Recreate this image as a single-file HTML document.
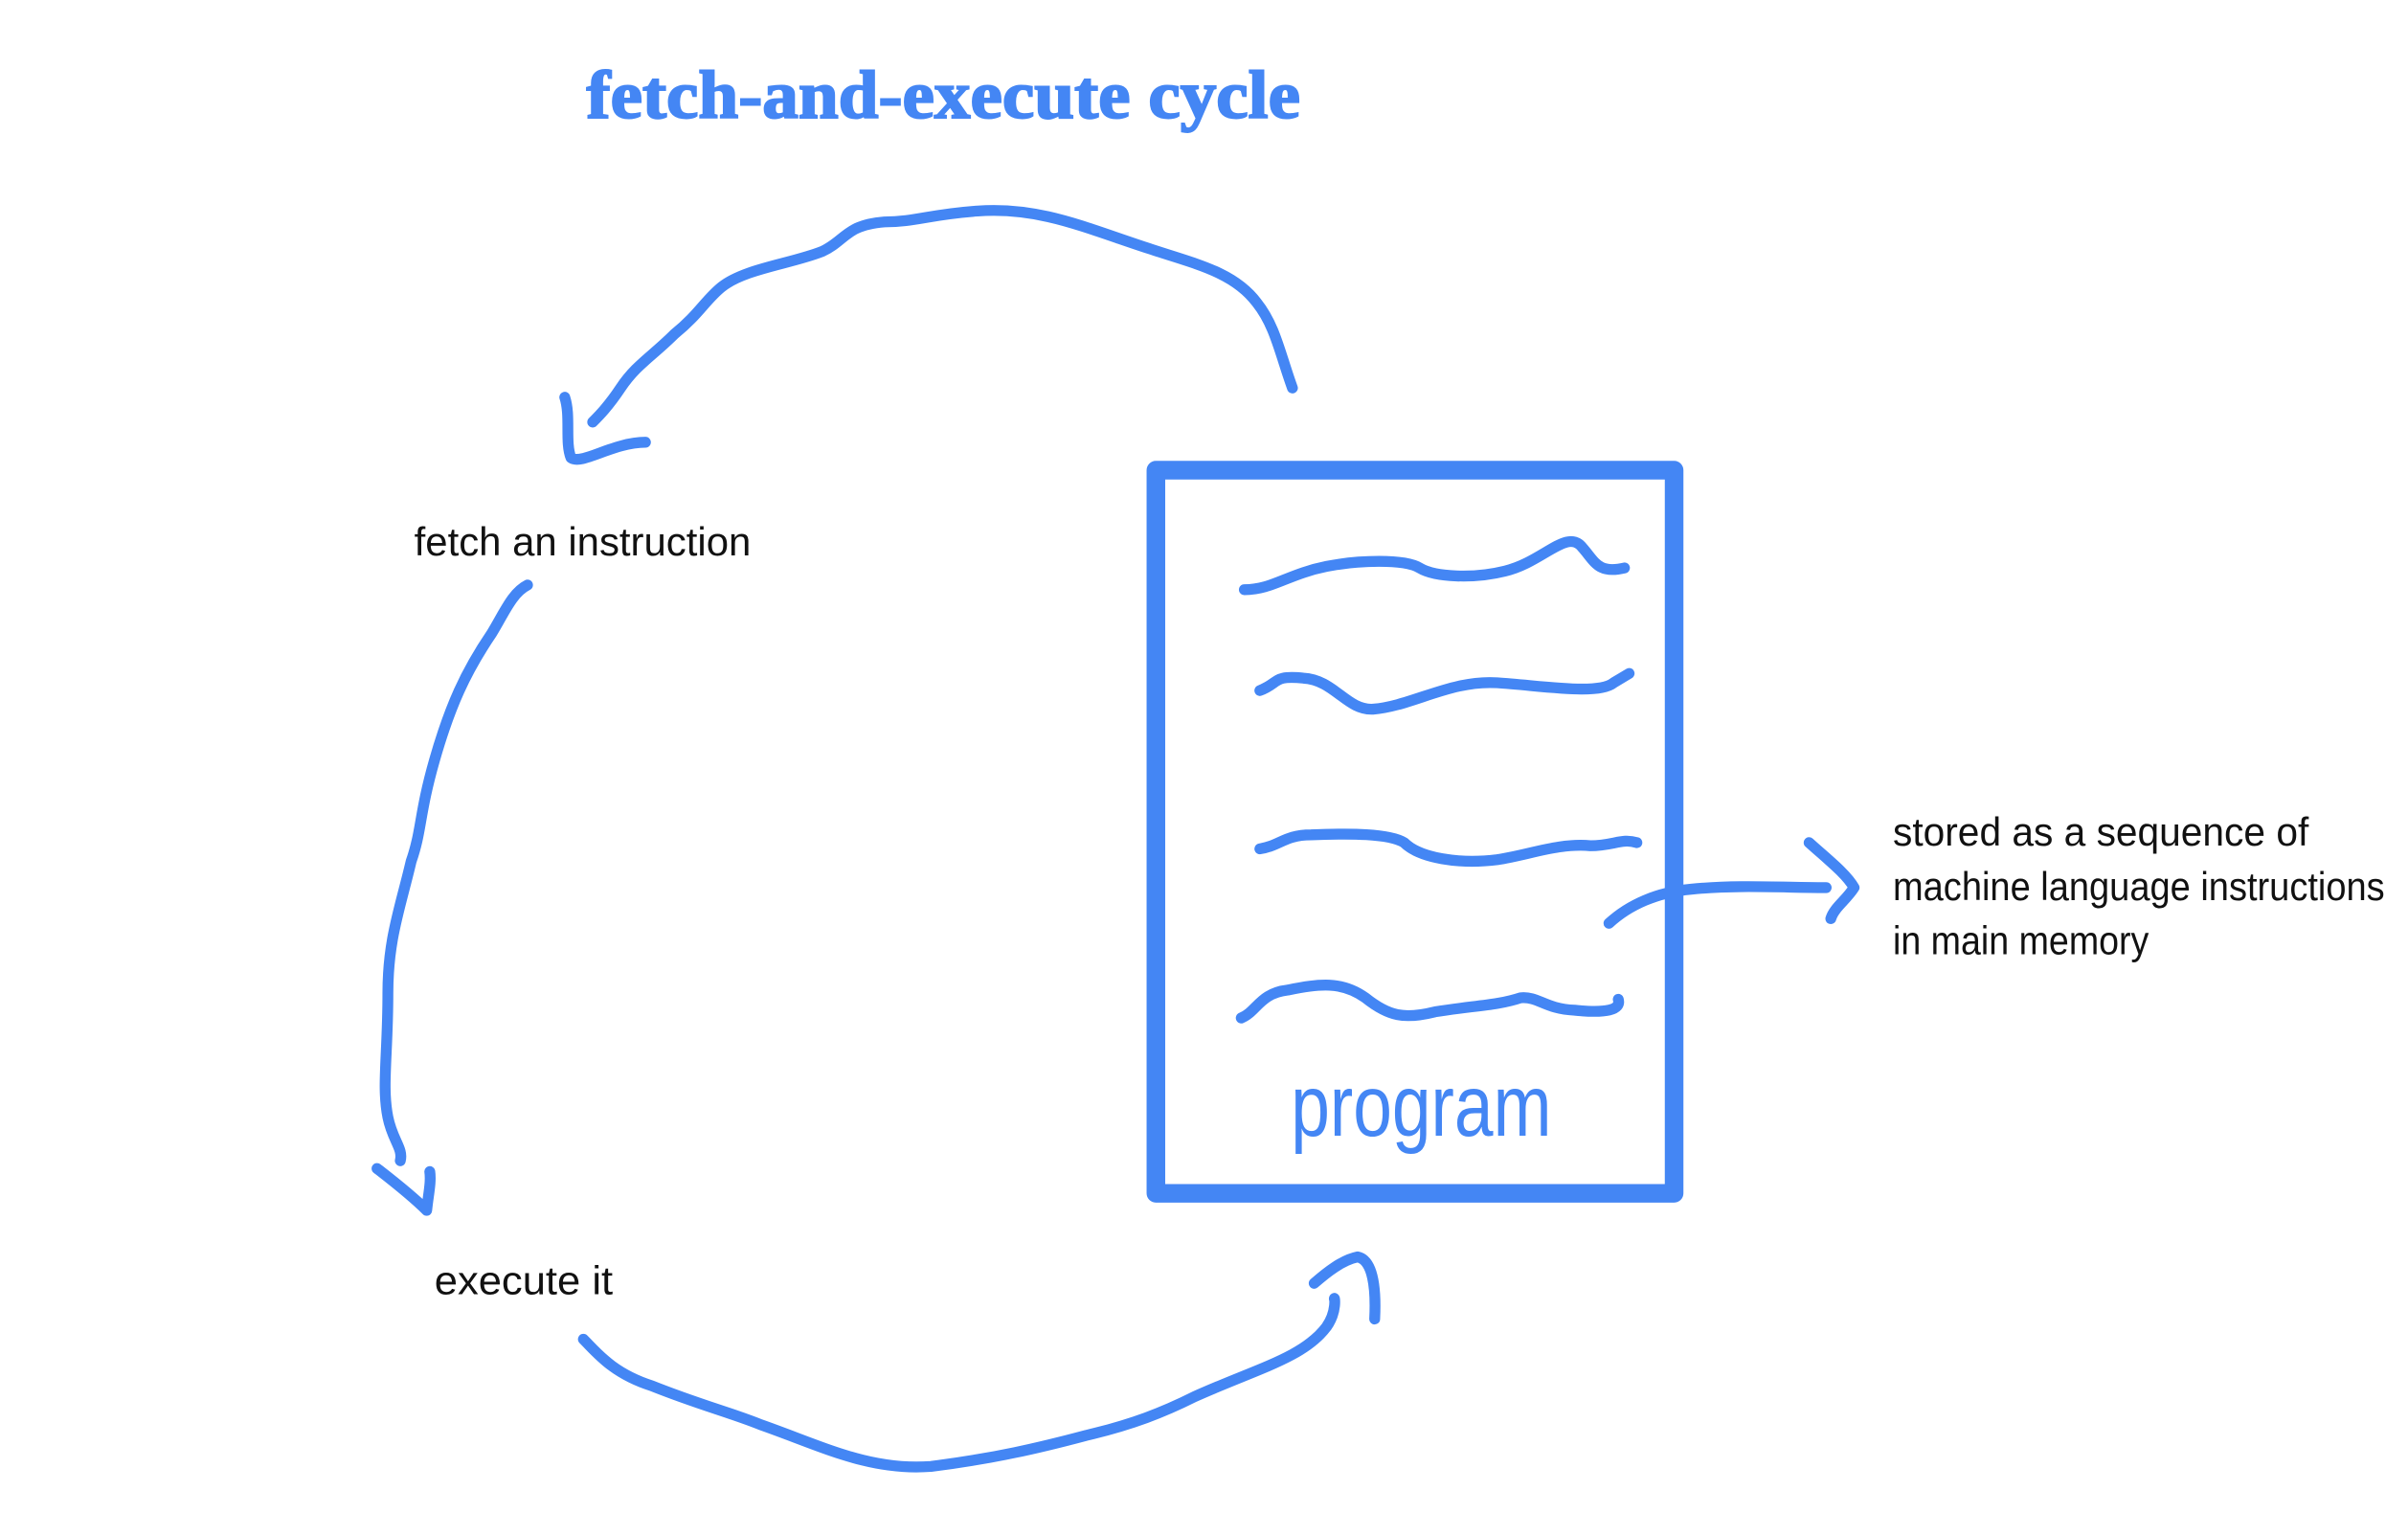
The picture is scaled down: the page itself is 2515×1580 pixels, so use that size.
<!DOCTYPE html>
<html><head><meta charset="utf-8"><style>
html,body{margin:0;padding:0;background:#fff;width:2515px;height:1580px;overflow:hidden}
svg{display:block}
.h{font-family:"Liberation Sans",sans-serif;fill:#111;font-size:26px}
</style></head><body>
<svg width="2515" height="1580" viewBox="0 0 1552 975" xmlns="http://www.w3.org/2000/svg">
<g fill="none" stroke="#4486f4" stroke-width="7" stroke-linecap="round" stroke-linejoin="round">
<path d="M833 250 C825 228 822 210 810 195 C795 175 770 170 740 160 C700 147 670 133 630 136 C600 138 590 143 570 143 C545 145 545 155 530 162 C510 170 480 173 465 185 C455 193 450 203 435 215 C420 230 410 235 400 250 C392 262 386 268 382 272"/>
<path d="M364 256 C368 268 364 285 368 295 C375 300 395 285 416 285"/>
<path d="M340 377 C330 382 325 395 317 408 C300 433 290 455 280 490 C270 525 272 535 265 555 C258 585 250 605 250 640 C250 680 246 700 250 720 C253 735 260 740 258 748"/>
<path d="M243 753 C252 760 265 770 275 780 C276 770 278 762 277 755"/>
<path d="M376 863 C385 872 395 885 420 893 C450 905 470 910 490 918 C530 932 560 948 600 945 C640 940 670 933 700 925 C730 918 750 910 770 900 C810 882 840 875 855 855 C862 845 860 835 860 837"/>
<path d="M847 827 C855 820 865 812 875 810 C885 812 887 830 886 850"/>
<path d="M1037 595 C1050 583 1068 575 1090 573 C1120 570 1150 572 1177 572"/>
<path d="M1166 543 C1177 553 1190 563 1195 572 C1190 580 1182 585 1180 592"/>
<path d="M802 380 C820 380 830 370 855 365 C875 361 905 360 915 366 C925 372 950 373 970 368 C995 362 1010 340 1020 353 C1028 362 1030 370 1047 366"/>
<path d="M812 445 C825 440 820 435 840 437 C860 438 868 458 885 457 C910 455 935 438 965 440 C995 442 1030 448 1040 440 L1050 434"/>
<path d="M812 547 C825 545 828 538 845 538 C870 537 895 537 905 543 C915 553 940 557 965 554 C985 551 1005 543 1025 545 C1040 545 1045 540 1055 543"/>
<path d="M800 656 C810 652 812 640 830 638 C850 634 865 632 880 643 C895 655 905 657 925 652 C950 648 965 648 980 643 C992 642 995 650 1015 651 C1035 653 1045 651 1043 644"/>
</g>
<rect x="745" y="303" width="334" height="466" fill="none" stroke="#4486f4" stroke-width="12" stroke-linejoin="round"/>
<text x="608" y="76" text-anchor="middle" font-family="Liberation Serif,serif" font-weight="bold" font-size="44" fill="#4486f4" stroke="#4486f4" stroke-width="1.2" textLength="460" lengthAdjust="spacingAndGlyphs">fetch-and-execute cycle</text>
<text x="832" y="732" font-family="Liberation Sans,sans-serif" font-size="56" fill="#4486f4" textLength="168" lengthAdjust="spacingAndGlyphs">program</text>
<text class="h" x="267" y="358" textLength="217" lengthAdjust="spacingAndGlyphs">fetch an instruction</text>
<text class="h" x="280" y="834" textLength="115" lengthAdjust="spacingAndGlyphs">execute it</text>
<text class="h" x="1220" y="545" textLength="268" lengthAdjust="spacingAndGlyphs">stored as a sequence of</text>
<text class="h" x="1220" y="580" textLength="317" lengthAdjust="spacingAndGlyphs">machine language instructions</text>
<text class="h" x="1220" y="615" textLength="165" lengthAdjust="spacingAndGlyphs">in main memory</text>
</svg>
</body></html>
